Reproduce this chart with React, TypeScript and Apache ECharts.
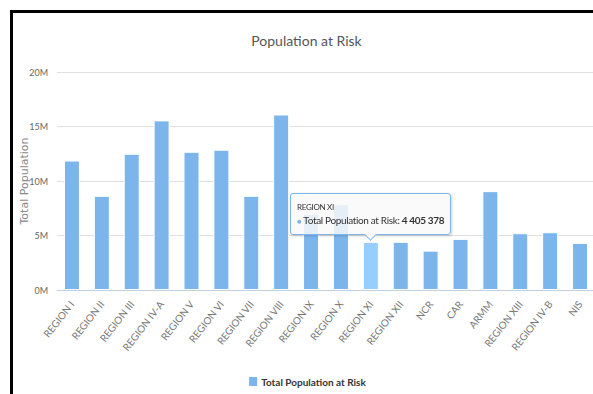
import React, { useEffect, useRef } from "react";
import * as echarts from "echarts";

const regions = [
  "REGION I", "REGION II", "REGION III", "REGION IV-A", "REGION V", "REGION VI",
  "REGION VII", "REGION VIII", "REGION IX", "REGION X", "REGION XI", "REGION XII",
  "NCR", "CAR", "ARMM", "REGION XIII", "REGION IV-B", "NIS",
];

const populationAtRisk = [
  11880000, 8640000, 12500000, 15560000, 12680000, 12870000,
  8640000, 16100000, 7000000, 7870000, 4405378, 4420000,
  3610000, 4690000, 9070000, 5210000, 5300000, 4320000,
];

const yTicks = { min: 0, max: 20000000, interval: 5000000 };
const seriesName = "Total Population at Risk";
const focusIndex = 10;

const narrow = "Lato, Roboto, sans-serif";

const spaced = (v: number) => String(Math.round(v)).replace(/\B(?=(\d{3})+(?!\d))/g, " ");

export default function App() {
  const ref = useRef<HTMLDivElement>(null);

  useEffect(() => {
    if (!ref.current) return;
    const chart = echarts.init(ref.current, null, { renderer: "svg" });

    chart.setOption({
      animation: false,
      backgroundColor: "#ffffff",
      title: {
        text: "Population at Risk",
        left: "center",
        top: 15,
        textStyle: { fontFamily: narrow, fontSize: 14, fontWeight: "normal", color: "#555555" },
      },
      legend: {
        left: "center",
        top: 357,
        itemWidth: 10,
        itemHeight: 11,
        itemGap: 4,
        icon: "rect",
        textStyle: { fontFamily: narrow, fontSize: 10, fontWeight: "bold", color: "#333333", padding: [0, 0, 0, -2] },
        data: [seriesName],
      },
      grid: { left: 44, right: 5, top: 59, bottom: 104, containLabel: false, outerBoundsMode: "none" },
      tooltip: {
        trigger: "item",
        triggerOn: "none",
        alwaysShowContent: true,
        transitionDuration: 0,
        showDelay: 0,
        padding: [8, 6, 7, 6],
        backgroundColor: "rgba(249,249,249,0.85)",
        borderColor: "#7cb5ec",
        borderWidth: 1,
        borderRadius: 3,
        extraCssText: "box-shadow: 1px 1px 3px rgba(0,0,0,0.18);",
        formatter: (p: any) =>
          `<div style="font-family:${narrow};line-height:1.35;color:#333">` +
          `<div style="font-size:8px;letter-spacing:-0.3px;margin-bottom:1px">${p.name}</div>` +
          `<div style="font-size:10px;letter-spacing:-0.35px"><span style="color:#7cb5ec;font-size:8px">&#9679;</span> ${p.seriesName}: <b>${spaced(p.value)}</b></div>` +
          `<div style="position:absolute;left:50%;bottom:-5px;width:8px;height:8px;margin-left:-5px;` +
          `background:rgb(249,249,249);border-right:1px solid #7cb5ec;border-bottom:1px solid #7cb5ec;transform:rotate(45deg)"></div>` +
          `</div>`,
        position: (_pt: any, params: any, _dom: any, _rect: any, size: any) => {
          const [cx, top] = chart.convertToPixel({ seriesIndex: 0 }, [params.dataIndex, params.value]) as number[];
          const [w, h] = size.contentSize;
          return [cx - w / 2, top - h - 7];
        },
      },
      xAxis: {
        type: "category",
        data: regions,
        axisLine: { lineStyle: { color: "#c0d0e0", width: 1 } },
        axisTick: { length: 9, lineStyle: { color: "#c0d0e0" } },
        axisLabel: {
          rotate: 52,
          interval: 0,
          margin: 12,
          fontFamily: narrow,
          fontSize: 10,
          color: "#777777",
        },
      },
      yAxis: {
        type: "value",
        min: yTicks.min,
        max: yTicks.max,
        interval: yTicks.interval,
        name: "Total Population",
        nameLocation: "middle",
        nameGap: 27,
        nameMoveOverlap: false,
        nameTextStyle: { fontFamily: "'DejaVu Sans', sans-serif", fontSize: 11, color: "#888888" },
        axisLine: { show: false },
        axisTick: { show: false },
        axisLabel: {
          margin: 9,
          fontFamily: narrow,
          fontSize: 9,
          color: "#666666",
          formatter: (v: number) => `${v / 1000000}M`,
        },
        splitLine: { lineStyle: { color: "#e0e0e0", width: 1 } },
      },
      series: [
        {
          name: seriesName,
          type: "bar",
          data: populationAtRisk,
          barWidth: 16,
          itemStyle: { color: "#7cb5ec", borderColor: "#ffffff", borderWidth: 1 },
          emphasis: { itemStyle: { color: "#95ceff", borderColor: "#ffffff", borderWidth: 1 } },
        },
      ],
    });

    chart.dispatchAction({ type: "highlight", seriesIndex: 0, dataIndex: focusIndex });
    chart.dispatchAction({ type: "showTip", seriesIndex: 0, dataIndex: focusIndex });

    return () => chart.dispose();
  }, []);

  return (
    <div style={{ position: "fixed", left: 0, top: 0, width: 593, height: 394, overflow: "hidden", background: "#ffffff" }}>
      <div
        style={{
          position: "absolute",
          left: 10,
          top: 10,
          width: 600,
          height: 400,
          borderLeft: "3px solid #000",
          borderTop: "3px solid #000",
        }}
      />
      <div ref={ref} style={{ position: "absolute", left: 13, top: 13, width: 587, height: 381 }} />
    </div>
  );
}
